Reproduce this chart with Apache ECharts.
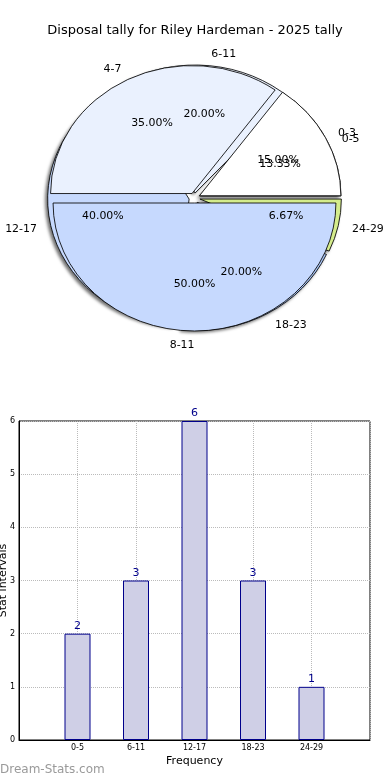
<!DOCTYPE html>
<html><head><meta charset="utf-8">
<script src="https://cdn.jsdelivr.net/npm/echarts@6/dist/echarts.min.js"></script>
<style>
html,body{margin:0;padding:0;background:#fff;}
#main{position:absolute;left:0;top:0;width:390px;height:780px;}
#pie{position:absolute;left:0;top:0;width:390px;height:370px;transform:scaleX(1.105);transform-origin:194.5px 0;}
</style></head><body>
<div id="main"></div><div id="pie"></div>
<script>
const titleText = 'Disposal tally for Riley Hardeman - 2025 tally';
const pieACategories = ['0-3', '4-7', '8-11'];
const pieAValues = [3, 7, 10];
const categories = ['0-5', '6-11', '12-17', '18-23', '24-29'];
const values = [2, 3, 6, 3, 1];
const yTicks = [0, 1, 2, 3, 4, 5, 6];
const xAxisName = 'Frequency';
const yAxisName = 'Stat intervals';
const watermark = 'Dream-Stats.com';

const pieAColors = ['#ffffff', '#eaf1fe', '#c6d9fe'];
const pieBColors = ['#ffffff', '#eaf1fe', '#c6d9fe', '#a8c4f4', '#d4ec8c'];

const PIE_FONT = 'DejaVu Sans Condensed';
const R = 128;
const CENTER = [194.5, 198];
const OFFSET = 5;

function pieData(names, vals, colors, visible) {
  return names.map((n, i) => ({
    name: n, value: vals[i], selected: true,
    itemStyle: visible ? { color: colors[i] } : { color: 'rgba(0,0,0,0)', borderWidth: 0 }
  }));
}
function pctFormatter(vals) {
  const total = vals.reduce((a, b) => a + b, 0);
  return p => (vals[p.dataIndex] / total * 100).toFixed(2) + '%';
}
function shapeSeries(names, vals, colors, z, shadow) {
  return {
    type: 'pie', z: z, center: CENTER, radius: [0, R],
    startAngle: 0, clockwise: false, animation: false,
    selectedMode: 'multiple', selectedOffset: OFFSET, avoidLabelOverlap: false,
    labelLayout: { hideOverlap: false },
    emphasis: { disabled: true }, silent: true,
    itemStyle: Object.assign({ borderColor: '#000', borderWidth: 0.8 },
      shadow ? { shadowBlur: 3, shadowColor: 'rgba(0,0,0,0.55)', shadowOffsetX: -2, shadowOffsetY: 2 } : {}),
    label: { show: true, position: 'outside', formatter: '{b}', fontSize: 11, color: '#000',
      fontFamily: PIE_FONT, distanceToLabelLine: 0 },
    labelLine: { show: false, length: R * 0.1, length2: 0 },
    data: pieData(names, vals, colors, true)
  };
}
function pctSeries(names, vals, z) {
  return {
    type: 'pie', z: z, center: CENTER, radius: [R * 0.2, R],
    startAngle: 0, clockwise: false, animation: false,
    selectedMode: 'multiple', selectedOffset: OFFSET, avoidLabelOverlap: false,
    labelLayout: { hideOverlap: false },
    emphasis: { disabled: true }, silent: true,
    label: { show: true, position: 'inside', formatter: pctFormatter(vals), fontSize: 11, color: '#000',
      fontFamily: PIE_FONT },
    labelLine: { show: false },
    data: pieData(names, vals, null, false)
  };
}

const pieChart = echarts.init(document.getElementById('pie'), null, { renderer: 'svg' });
pieChart.setOption({
  animation: false,
  series: [
    shapeSeries(categories, values, pieBColors, 1, true),
    shapeSeries(pieACategories, pieAValues, pieAColors, 2, false),
    pctSeries(categories, values, 3),
    pctSeries(pieACategories, pieAValues, 4)
  ]
});

const mainChart = echarts.init(document.getElementById('main'));
mainChart.setOption({
  animation: false,
  backgroundColor: '#fff',
  textStyle: { fontFamily: 'DejaVu Sans' },
  title: { text: titleText, left: 'center', top: 19,
    textStyle: { fontSize: 13, fontWeight: 'normal', color: '#000', fontFamily: 'DejaVu Sans' } },
  graphic: [{ type: 'text', left: 0, top: 764,
    style: { text: watermark, fontSize: 12, fill: '#9a9a9a', fontFamily: 'DejaVu Sans' } }],
  grid: { left: 19, right: 20, top: 421, bottom: 40, show: true, borderColor: '#000', borderWidth: 1,
    containLabel: false, outerBoundsMode: 'none' },
  xAxis: {
    type: 'category', data: [''].concat(categories, ['']), boundaryGap: false,
    axisLine: { lineStyle: { color: '#000' } }, axisTick: { show: false },
    axisLabel: { fontSize: 8, color: '#000', margin: 4, interval: 0 },
    splitLine: { show: true, interval: 0, lineStyle: { color: '#bbb', type: 'dotted' } },
    name: xAxisName, nameLocation: 'middle', nameGap: 16, nameMoveOverlap: false,
    nameTextStyle: { fontSize: 11, color: '#000' }
  },
  yAxis: {
    type: 'value', min: yTicks[0], max: yTicks[yTicks.length - 1], interval: 1,
    axisLine: { show: true, lineStyle: { color: '#000' } }, axisTick: { show: false },
    axisLabel: { fontSize: 8, color: '#000', margin: 4 },
    splitLine: { show: true, lineStyle: { color: '#bbb', type: 'dotted' } },
    name: yAxisName, nameLocation: 'middle', nameGap: 10, nameMoveOverlap: false,
    nameTextStyle: { fontSize: 11, color: '#000' }
  },
  series: [{
    type: 'bar', barWidth: 26,
    data: ['-'].concat(values, ['-']),
    itemStyle: { color: '#cfcfe6', borderColor: '#00008b', borderWidth: 1 },
    label: { show: true, position: 'top', distance: 2, fontSize: 11, color: '#00008b' }
  }]
});
</script>
</body></html>
